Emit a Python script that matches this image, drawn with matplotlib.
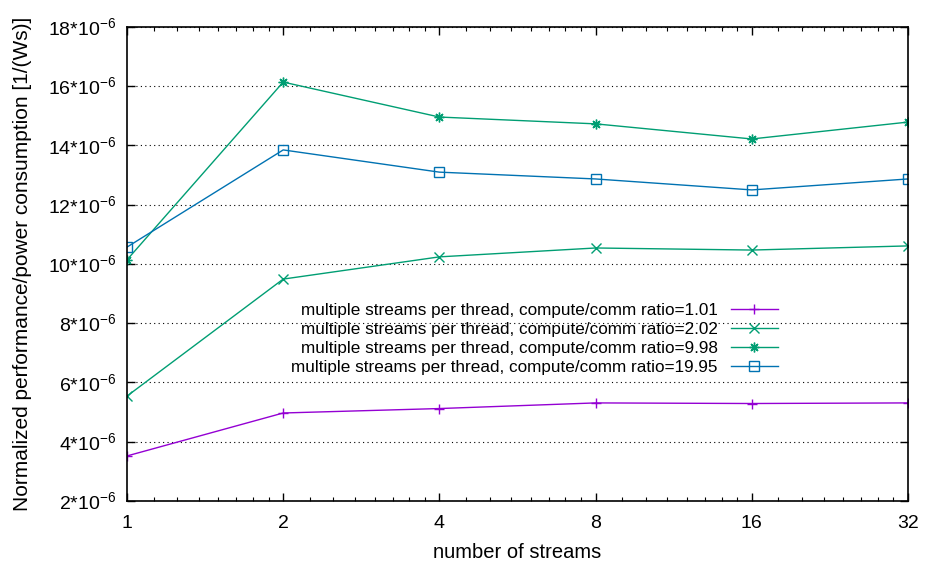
import matplotlib
matplotlib.use('Agg')
import matplotlib.pyplot as plt
from matplotlib.ticker import FixedLocator, FuncFormatter, NullFormatter

plt.rcParams['font.family'] = ['Liberation Sans', 'DejaVu Sans']
plt.rcParams['font.size'] = 12

streams = [1, 2, 4, 8, 16, 32]
labels = [
    'multiple streams per thread, compute/comm ratio=1.01',
    'multiple streams per thread, compute/comm ratio=2.02',
    'multiple streams per thread, compute/comm ratio=9.98',
    'multiple streams per thread, compute/comm ratio=19.95',
]
# values in units of 1e-6
ratio_1_01 = [3.52, 4.97, 5.12, 5.31, 5.29, 5.31]
ratio_2_02 = [5.54, 9.49, 10.24, 10.54, 10.47, 10.61]
ratio_9_98 = [10.14, 16.14, 14.96, 14.73, 14.22, 14.79]
ratio_19_95 = [10.57, 13.85, 13.10, 12.87, 12.50, 12.87]

series = [ratio_1_01, ratio_2_02, ratio_9_98, ratio_19_95]
colors = ['#9400d3', '#009e73', '#009e73', '#0072b2']
markers = ['+', 'x', (8, 2, 0), 's']

fig = plt.figure(figsize=(9.25, 5.61), dpi=100)
ax = fig.add_axes([0.1373, 0.107, 0.8443, 0.8449])

for vals, lab, c, m in zip(series, labels, colors, markers):
    ax.plot(streams, [v * 1e-6 for v in vals], color=c, marker=m, lw=1,
            ms=7, mew=1, mfc='none', label=lab)

ax.set_xscale('log', base=2)
ax.set_xlim(1, 32)
ax.xaxis.set_major_locator(FixedLocator(streams))
ax.xaxis.set_major_formatter(FuncFormatter(lambda v, p: '%d' % round(v)))
minor = [s * (1 + k / 8) for s in streams[:-1] for k in range(1, 8)]
ax.xaxis.set_minor_locator(FixedLocator(minor))
ax.xaxis.set_minor_formatter(NullFormatter())

ax.set_ylim(2e-6, 18e-6)
ax.set_yticks([v * 1e-6 for v in range(2, 19, 2)])
ax.yaxis.set_major_formatter(FuncFormatter(
    lambda v, p: r'%d*10$^{\mathregular{-6}}$' % round(v * 1e6)))
ax.yaxis.grid(True, color='black', linestyle=(0, (1, 3)), lw=0.8)

ax.tick_params(which='both', direction='in', top=True, right=True)
ax.tick_params(which='major', length=6, width=1, labelsize=14, pad=8)
ax.tick_params(which='minor', length=3, width=0.8)
ax.tick_params(axis='x', which='major', pad=10)
for sp in ax.spines.values():
    sp.set_linewidth(1.2)

ax.set_xlabel('number of streams', fontsize=14.5, labelpad=8)
ax.set_ylabel('Normalized performance/power consumption [1/(Ws)]',
              fontsize=15, labelpad=11)

ax.legend(loc='center right', bbox_to_anchor=(0.834, 0.341), frameon=False,
          markerfirst=False, borderpad=0, handlelength=2.78, handletextpad=0.75,
          labelspacing=0.23, borderaxespad=0, fontsize=12.35)

fig.savefig('out.png', dpi=100)
